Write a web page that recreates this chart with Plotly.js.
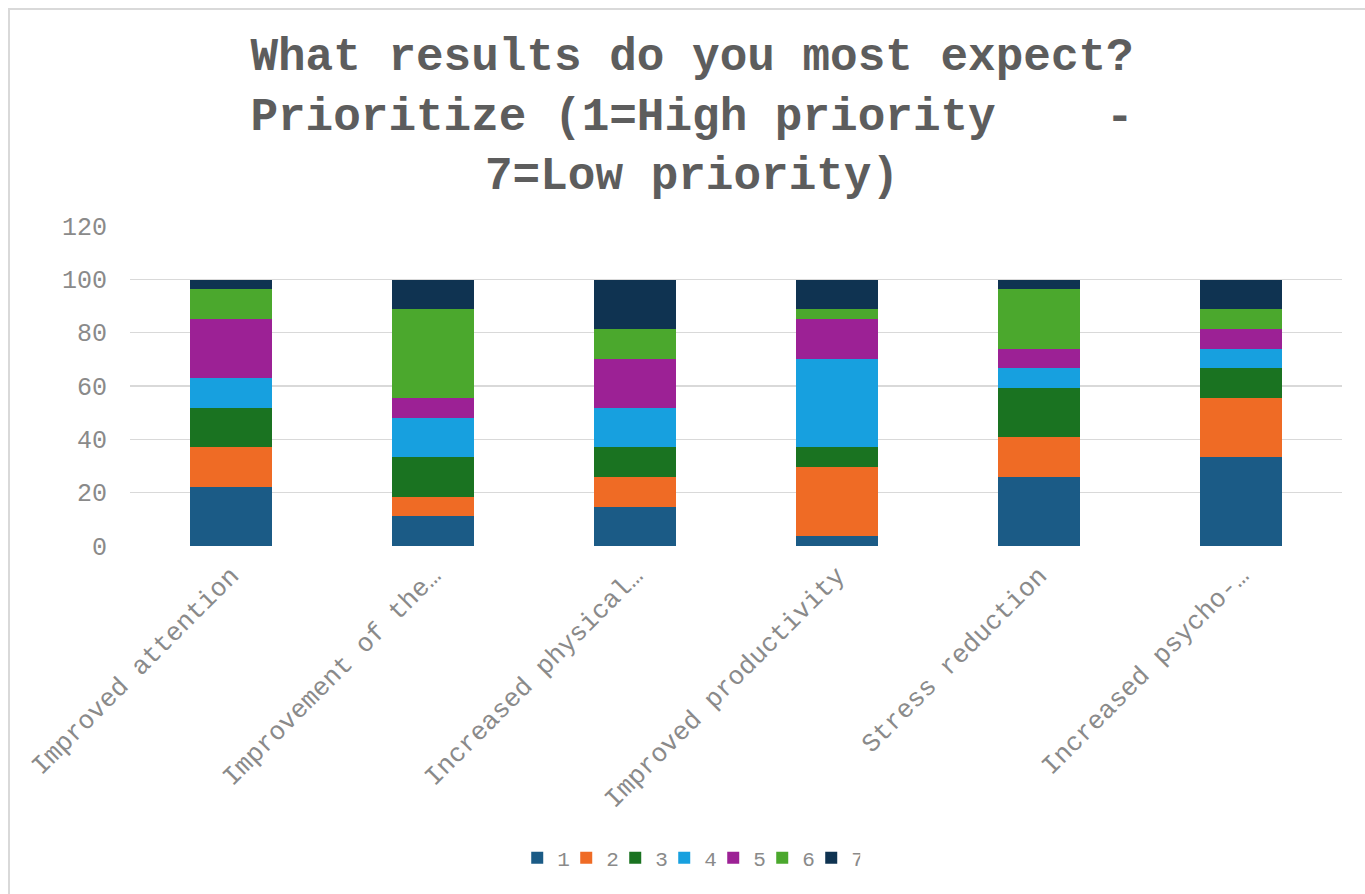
<!DOCTYPE html>
<html>
<head>
<meta charset="utf-8">
<script src="https://cdn.plot.ly/plotly-3.0.1.min.js"></script>
<style>
  html, body { margin: 0; padding: 0; background: #ffffff; }
  #wrap { position: relative; width: 1365px; height: 894px; overflow: hidden; }
  #frame { position: absolute; left: 8px; top: 8px; width: 1400px; height: 1000px;
           border-left: 2px solid #d9d9d9; border-top: 2px solid #d9d9d9; pointer-events: none; }
  #chart { position: absolute; left: 0; top: 0; width: 1365px; height: 894px; }
</style>
</head>
<body>
<div id="wrap">
  <div id="chart"></div>
  <div id="frame"></div>
</div>
<script>
// Categories (x axis tick labels)
const categories = [
  "Improved attention",
  "Improvement of the…",
  "Increased physical…",
  "Improved productivity",
  "Stress reduction",
  "Increased psycho-…"
];

// Series: share (%) of respondents giving each priority rank
const rank1 = [22.2, 11.1, 14.8, 3.7, 25.9, 33.3];
const rank2 = [14.8, 7.4, 11.1, 25.9, 14.8, 22.2];
const rank3 = [14.8, 14.8, 11.1, 7.4, 18.5, 11.1];
const rank4 = [11.1, 14.8, 14.8, 33.3, 7.4, 7.4];
const rank5 = [22.2, 7.4, 18.5, 14.8, 7.4, 7.4];
const rank6 = [11.1, 33.3, 11.1, 3.7, 22.2, 7.4];
const rank7 = [3.7, 11.1, 18.5, 11.1, 3.7, 11.1];

const seriesNames = ["1", "2", "3", "4", "5", "6", "7"];
const seriesValues = [rank1, rank2, rank3, rank4, rank5, rank6, rank7];
const seriesColors = ["#1b5b86", "#ef6b25", "#1a7321", "#17a0df", "#9c2195", "#4ba82d", "#0f3351"];

const yTicks = [0, 20, 40, 60, 80, 100, 120];

const FONT = "'Liberation Mono', 'Courier New', monospace";

const traces = seriesValues.map((vals, i) => ({
  type: "bar",
  name: seriesNames[i],
  x: categories,
  y: vals,
  marker: { color: seriesColors[i], line: { width: 0 } },
  hoverinfo: "x+y+name"
}));

const layout = {
  width: 1365,
  height: 894,
  barmode: "stack",
  bargap: 0.59,
  paper_bgcolor: "rgba(0,0,0,0)",
  plot_bgcolor: "rgba(0,0,0,0)",
  margin: { l: 130, r: 23, t: 226, b: 348 },
  font: { family: FONT, color: "#8a8a8a" },
  title: {
    text: "What results do you most expect?<br>Prioritize (1=High priority\u00A0\u00A0\u00A0\u00A0-<br>7=Low priority)",
    font: { family: FONT, size: 46, color: "#5d5d5d", weight: "bold" },
    x: 0.507,
    xanchor: "center",
    y: 0.922,
    yanchor: "top",
    yref: "container"
  },
  xaxis: {
    type: "category",
    tickangle: -45,
    tickfont: { family: FONT, size: 26, color: "#8a8a8a" },
    ticklabelstandoff: 8,
    showgrid: false,
    zeroline: false,
    showline: false,
    ticks: "",
    automargin: false
  },
  yaxis: {
    range: [0, 120],
    tickvals: yTicks,
    ticktext: yTicks.map(String),
    tickfont: { family: FONT, size: 25, color: "#8a8a8a" },
    ticklabelstandoff: 22,
    showgrid: true,
    gridcolor: "#d9d9d9",
    gridwidth: 1.5,
    zeroline: false,
    showline: false,
    ticks: "",
    ticklen: 0,
    automargin: false
  },
  showlegend: true,
  legend: {
    orientation: "h",
    x: 0.461,
    xanchor: "center",
    y: -0.975,
    yanchor: "middle",
    font: { family: FONT, size: 21, color: "#8a8a8a" },
    traceorder: "normal",
    itemwidth: 30,
    entrywidth: 4,
    entrywidthmode: "pixels",
    bgcolor: "rgba(0,0,0,0)"
  }
};

Plotly.newPlot("chart", traces, layout, { displayModeBar: false, staticPlot: true });
</script>
</body>
</html>
